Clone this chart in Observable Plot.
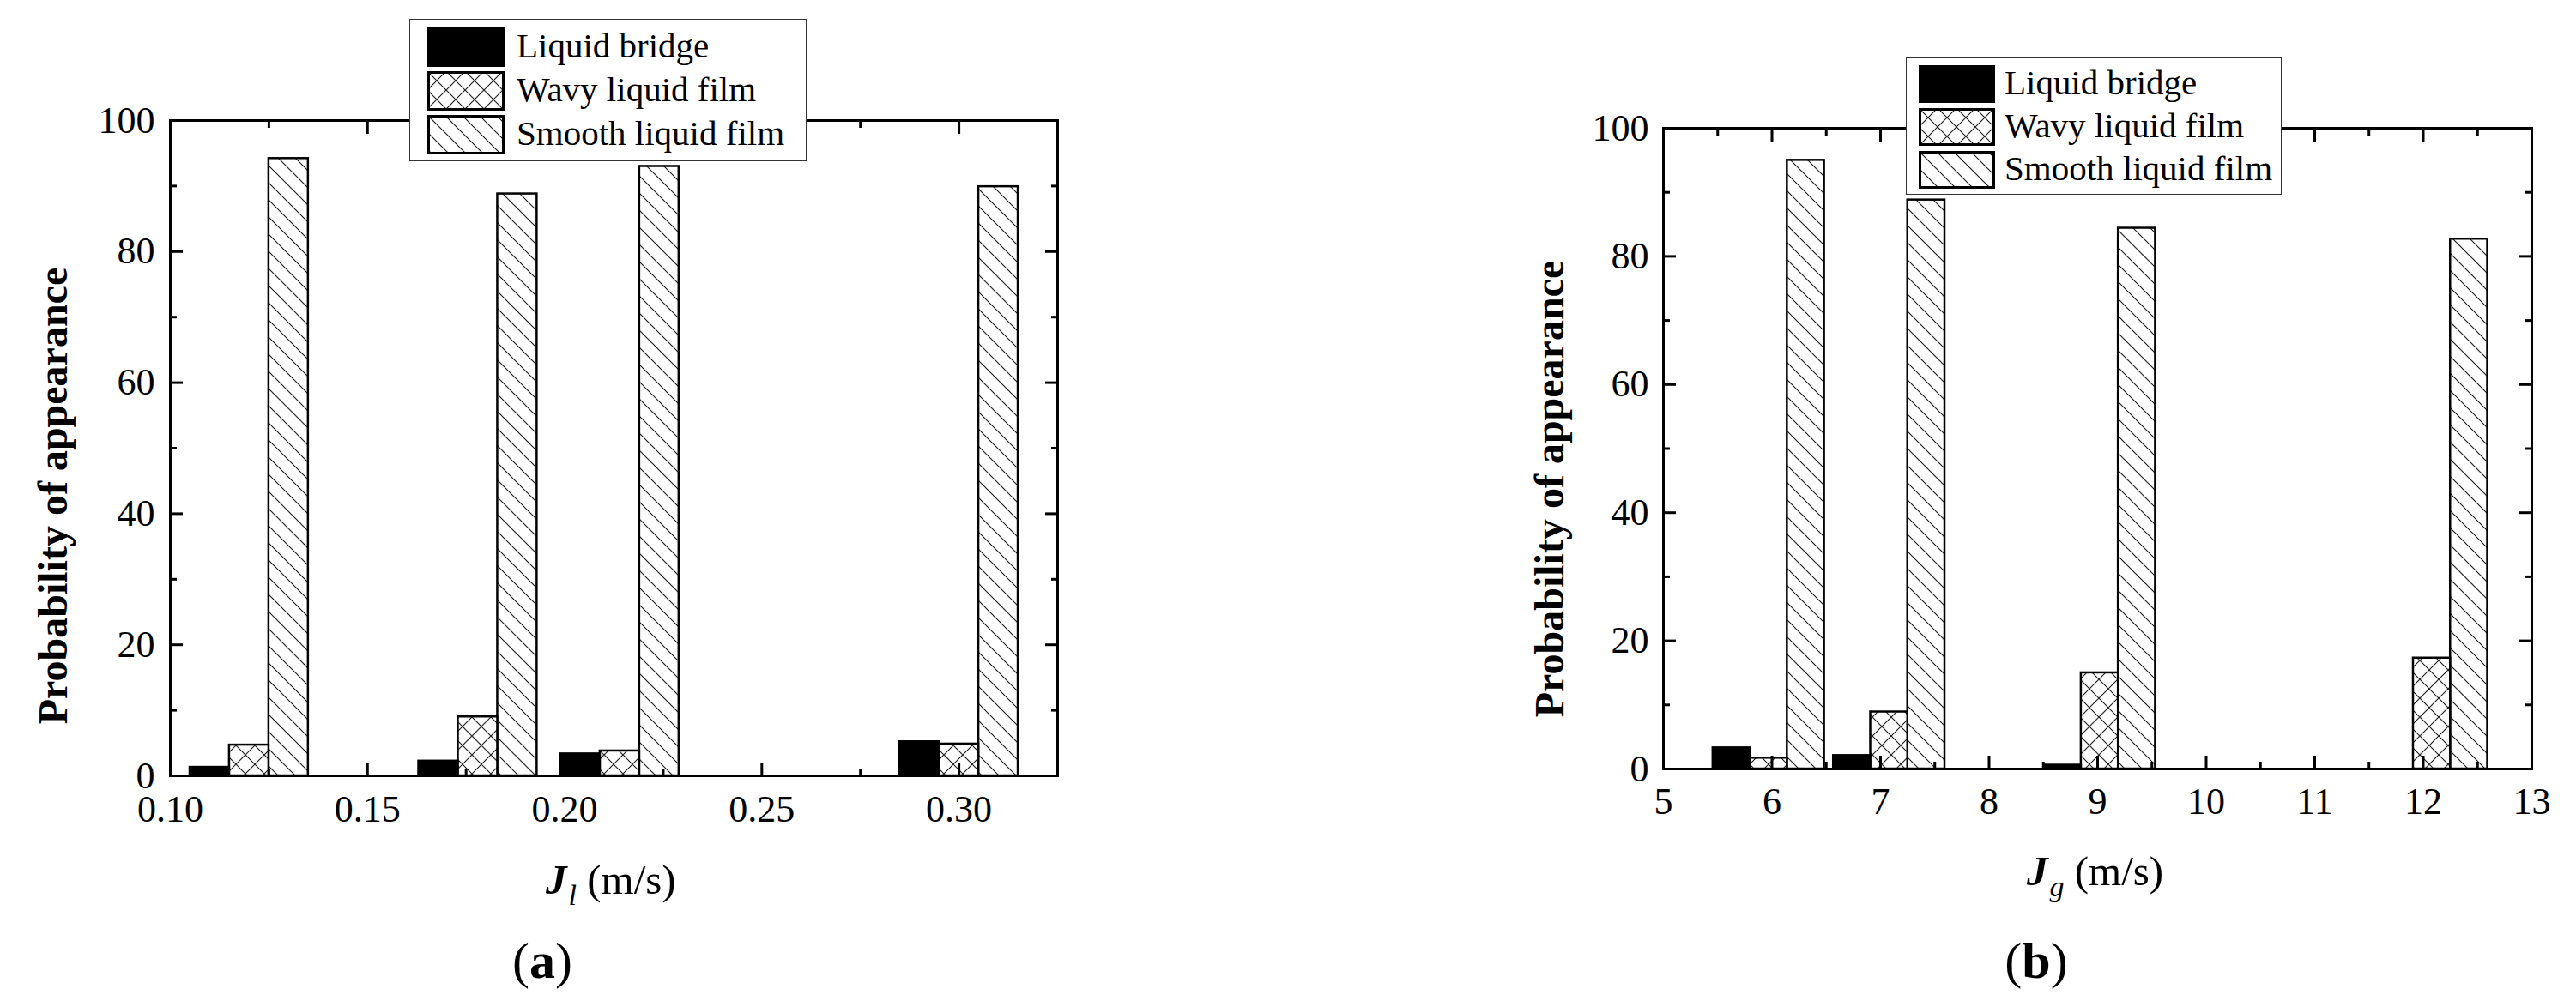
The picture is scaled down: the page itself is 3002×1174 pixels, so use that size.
<!DOCTYPE html>
<html>
<head>
<meta charset="utf-8">
<script src="https://cdn.jsdelivr.net/npm/d3@7"></script>
<script src="https://cdn.jsdelivr.net/npm/@observablehq/plot@0.6"></script>
<style>
  body { margin: 0; background: #fff; }
  #page { position: relative; width: 3002px; height: 1174px; overflow: hidden; background: #fff;
          font-family: 'Liberation Serif', 'Times New Roman', serif; color: #000; }
  .panel { position: absolute; top: 0; }
  .txt { position: absolute; white-space: nowrap; line-height: 1; }
  .legend { position: absolute; background: #fff; border: 1.5px solid #333; box-sizing: border-box; z-index: 5; }
  .legend .sw { position: absolute; }
  .legend .lt { position: absolute; white-space: nowrap; font-size: 41px; line-height: 41px; }
</style>
</head>
<body>
<svg width="0" height="0" style="position:absolute">
  <defs>
    <pattern id="cross" patternUnits="userSpaceOnUse" width="22" height="22">
      <rect width="22" height="22" fill="white"/>
      <path d="M0,0L22,22M22,0L0,22M-3,3L3,-3M19,25L25,19M-3,19L3,25M19,-3L25,3" stroke="#222" stroke-width="1.2"/>
    </pattern>
    <pattern id="diag" patternUnits="userSpaceOnUse" width="20" height="20">
      <rect width="20" height="20" fill="white"/>
      <path d="M-5,-5L25,25M-5,15L5,25M15,-5L25,5" stroke="#222" stroke-width="1.2"/>
    </pattern>
  </defs>
</svg>
<div id="page"></div>
<script>
// ---------------- data ----------------
const seriesNames = ["Liquid bridge", "Wavy liquid film", "Smooth liquid film"];

// panel (a): liquid superficial velocity J_l (m/s), group centres
const jlValues = [0.12, 0.178, 0.214, 0.30];
const bridgeA = [1.3, 2.25, 3.35, 5.2];
const wavyA   = [4.7, 9.0, 3.8, 4.85];
const smoothA = [94.2, 88.8, 93.0, 89.9];

// panel (b): gas superficial velocity J_g (m/s), group centres
const jgValues = [5.97, 7.08, 9.02, 12.08];
const bridgeB = [3.3, 2.1, 0.6, 0];
const wavyB   = [1.7, 8.9, 15.0, 17.3];
const smoothB = [95.0, 88.8, 84.4, 82.7];

// axis ticks
const yTicks  = [0, 20, 40, 60, 80, 100];
const yMinor  = [10, 30, 50, 70, 90];
const xTicksA = [0.10, 0.15, 0.20, 0.25, 0.30];
const xMinorA = [0.125, 0.175, 0.225, 0.275];
const xTicksB = [5, 6, 7, 8, 9, 10, 11, 12, 13];
const xMinorB = [5.5, 6.5, 7.5, 8.5, 9.5, 10.5, 11.5, 12.5];

// ---------------- styling / layout ----------------
const fills = ["black", "url(#cross)", "url(#diag)"];
const page = document.getElementById("page");

function panel({xs, bw, series, xDomain, xTicks, xMinor, xFmt, width, height, margin, labelPadX, labelPadY}) {
  const barMark = (vals, k) => Plot.rect(
    xs.map((x, i) => ({x: x + (k - 1) * bw, value: vals[i]})),
    {x1: d => d.x - bw / 2, x2: d => d.x + bw / 2, y1: 0, y2: "value",
     fill: fills[k], stroke: "black", strokeWidth: 2.5}
  );
  const tickOpts = {fill: "none", label: null, strokeWidth: 3, stroke: "black"};
  return Plot.plot({
    width, height,
    marginLeft: margin.left, marginRight: margin.right, marginTop: margin.top, marginBottom: margin.bottom,
    x: {type: "linear", domain: xDomain},
    y: {type: "linear", domain: [0, 100]},
    style: {fontFamily: "'Liberation Serif', 'Times New Roman', serif", fontSize: "44px", color: "black", background: "white"},
    marks: [
      barMark(series[2], 2),
      barMark(series[1], 1),
      barMark(series[0], 0),
      Plot.axisX({anchor: "bottom", ticks: xTicks, tickSize: 0, tickPadding: labelPadX, tickFormat: xFmt, label: null, fill: "black"}),
      Plot.axisY({anchor: "left", ticks: yTicks, tickSize: 0, tickPadding: labelPadY, tickFormat: d => String(d), label: null, fill: "black"}),
      Plot.axisX({anchor: "bottom", ticks: xTicks, tickSize: -15, ...tickOpts}),
      Plot.axisX({anchor: "bottom", ticks: xMinor, tickSize: -8, ...tickOpts}),
      Plot.axisX({anchor: "top", ticks: xTicks, tickSize: -15, ...tickOpts}),
      Plot.axisX({anchor: "top", ticks: xMinor, tickSize: -8, ...tickOpts}),
      Plot.axisY({anchor: "left", ticks: yTicks, tickSize: -15, ...tickOpts}),
      Plot.axisY({anchor: "left", ticks: yMinor, tickSize: -8, ...tickOpts}),
      Plot.axisY({anchor: "right", ticks: yTicks, tickSize: -15, ...tickOpts}),
      Plot.axisY({anchor: "right", ticks: yMinor, tickSize: -8, ...tickOpts}),
      Plot.frame({stroke: "black", strokeWidth: 3})
    ]
  });
}

const fmt2 = d3.format(".2f");

const chartA = panel({
  xs: jlValues, bw: 0.01, series: [bridgeA, wavyA, smoothA],
  xDomain: [0.10, 0.325], xTicks: xTicksA, xMinor: xMinorA, xFmt: fmt2,
  width: 1450, height: 1000, margin: {left: 198, right: 218, top: 140, bottom: 96},
  labelPadX: 22, labelPadY: 18
});
chartA.classList.add("panel");
chartA.style.left = "0px";
page.appendChild(chartA);

const chartB = panel({
  xs: jgValues, bw: 0.342, series: [bridgeB, wavyB, smoothB],
  xDomain: [5, 13], xTicks: xTicksB, xMinor: xMinorB, xFmt: d => String(d),
  width: 1502, height: 1000, margin: {left: 438, right: 52, top: 149, bottom: 104},
  labelPadX: 21, labelPadY: 17
});
chartB.classList.add("panel");
chartB.style.left = "1500px";
page.appendChild(chartB);

// ---------------- text helpers ----------------
function placeText(html, {x, baseline, size, anchor = "start", weight = "normal"}) {
  const d = document.createElement("div");
  d.className = "txt";
  d.innerHTML = html;
  d.style.fontSize = size + "px";
  d.style.fontWeight = weight;
  d.style.left = x + "px";
  d.style.top = (baseline - 0.8375 * size) + "px";
  if (anchor === "middle") d.style.transform = "translateX(-50%)";
  page.appendChild(d);
  return d;
}
function placeRotated(text, {cx, cy, size}) {
  const d = document.createElement("div");
  d.className = "txt";
  d.textContent = text;
  d.style.fontSize = size + "px";
  d.style.fontWeight = "bold";
  d.style.left = cx + "px";
  d.style.top = cy + "px";
  d.style.transform = "translate(-50%, -50%) rotate(-90deg)";
  page.appendChild(d);
}
function legend({left, top, width, height, swLeft, swWidth, swHeight, rowTop, rowPitch, textLeft}) {
  const box = document.createElement("div");
  box.className = "legend";
  Object.assign(box.style, {left: left + "px", top: top + "px", width: width + "px", height: height + "px"});
  seriesNames.forEach((name, i) => {
    const y0 = rowTop + i * rowPitch;
    const sw = document.createElementNS("http://www.w3.org/2000/svg", "svg");
    sw.setAttribute("class", "sw");
    sw.setAttribute("width", swWidth);
    sw.setAttribute("height", swHeight);
    sw.style.left = swLeft + "px";
    sw.style.top = y0 + "px";
    const r = document.createElementNS("http://www.w3.org/2000/svg", "rect");
    r.setAttribute("x", 1.5); r.setAttribute("y", 1.5);
    r.setAttribute("width", swWidth - 3); r.setAttribute("height", swHeight - 3);
    r.setAttribute("fill", fills[i]); r.setAttribute("stroke", "black"); r.setAttribute("stroke-width", 3);
    sw.appendChild(r);
    box.appendChild(sw);
    const t = document.createElement("div");
    t.className = "lt";
    t.textContent = name;
    t.style.left = textLeft + "px";
    t.style.top = (y0 + swHeight / 2 - 22) + "px";
    box.appendChild(t);
  });
  page.appendChild(box);
}

// ---------------- legends ----------------
legend({left: 477, top: 22, width: 463, height: 166, swLeft: 20, swWidth: 90, swHeight: 46, rowTop: 9, rowPitch: 51, textLeft: 124});
legend({left: 2221, top: 67, width: 438, height: 160, swLeft: 14, swWidth: 89, swHeight: 44, rowTop: 8, rowPitch: 50, textLeft: 114});

// ---------------- axis titles ----------------
placeRotated("Probability of appearance", {cx: 62, cy: 578, size: 48});
placeRotated("Probability of appearance", {cx: 1806, cy: 570, size: 48});

placeText('<b><i>J</i></b><span style="font-size:34px;font-style:italic;position:relative;top:13px;margin-left:2px">l</span>&nbsp;(m/s)',
  {x: 636, baseline: 1042, size: 49});
placeText('<b><i>J</i></b><span style="font-size:34px;font-style:italic;position:relative;top:13px;margin-left:2px">g</span>&nbsp;(m/s)',
  {x: 2362, baseline: 1032, size: 49});

// ---------------- panel labels ----------------
placeText('(<b>a</b>)', {x: 632, baseline: 1140, size: 60, anchor: "middle"});
placeText('(<b>b</b>)', {x: 2373, baseline: 1140, size: 60, anchor: "middle"});
</script>
</body>
</html>
